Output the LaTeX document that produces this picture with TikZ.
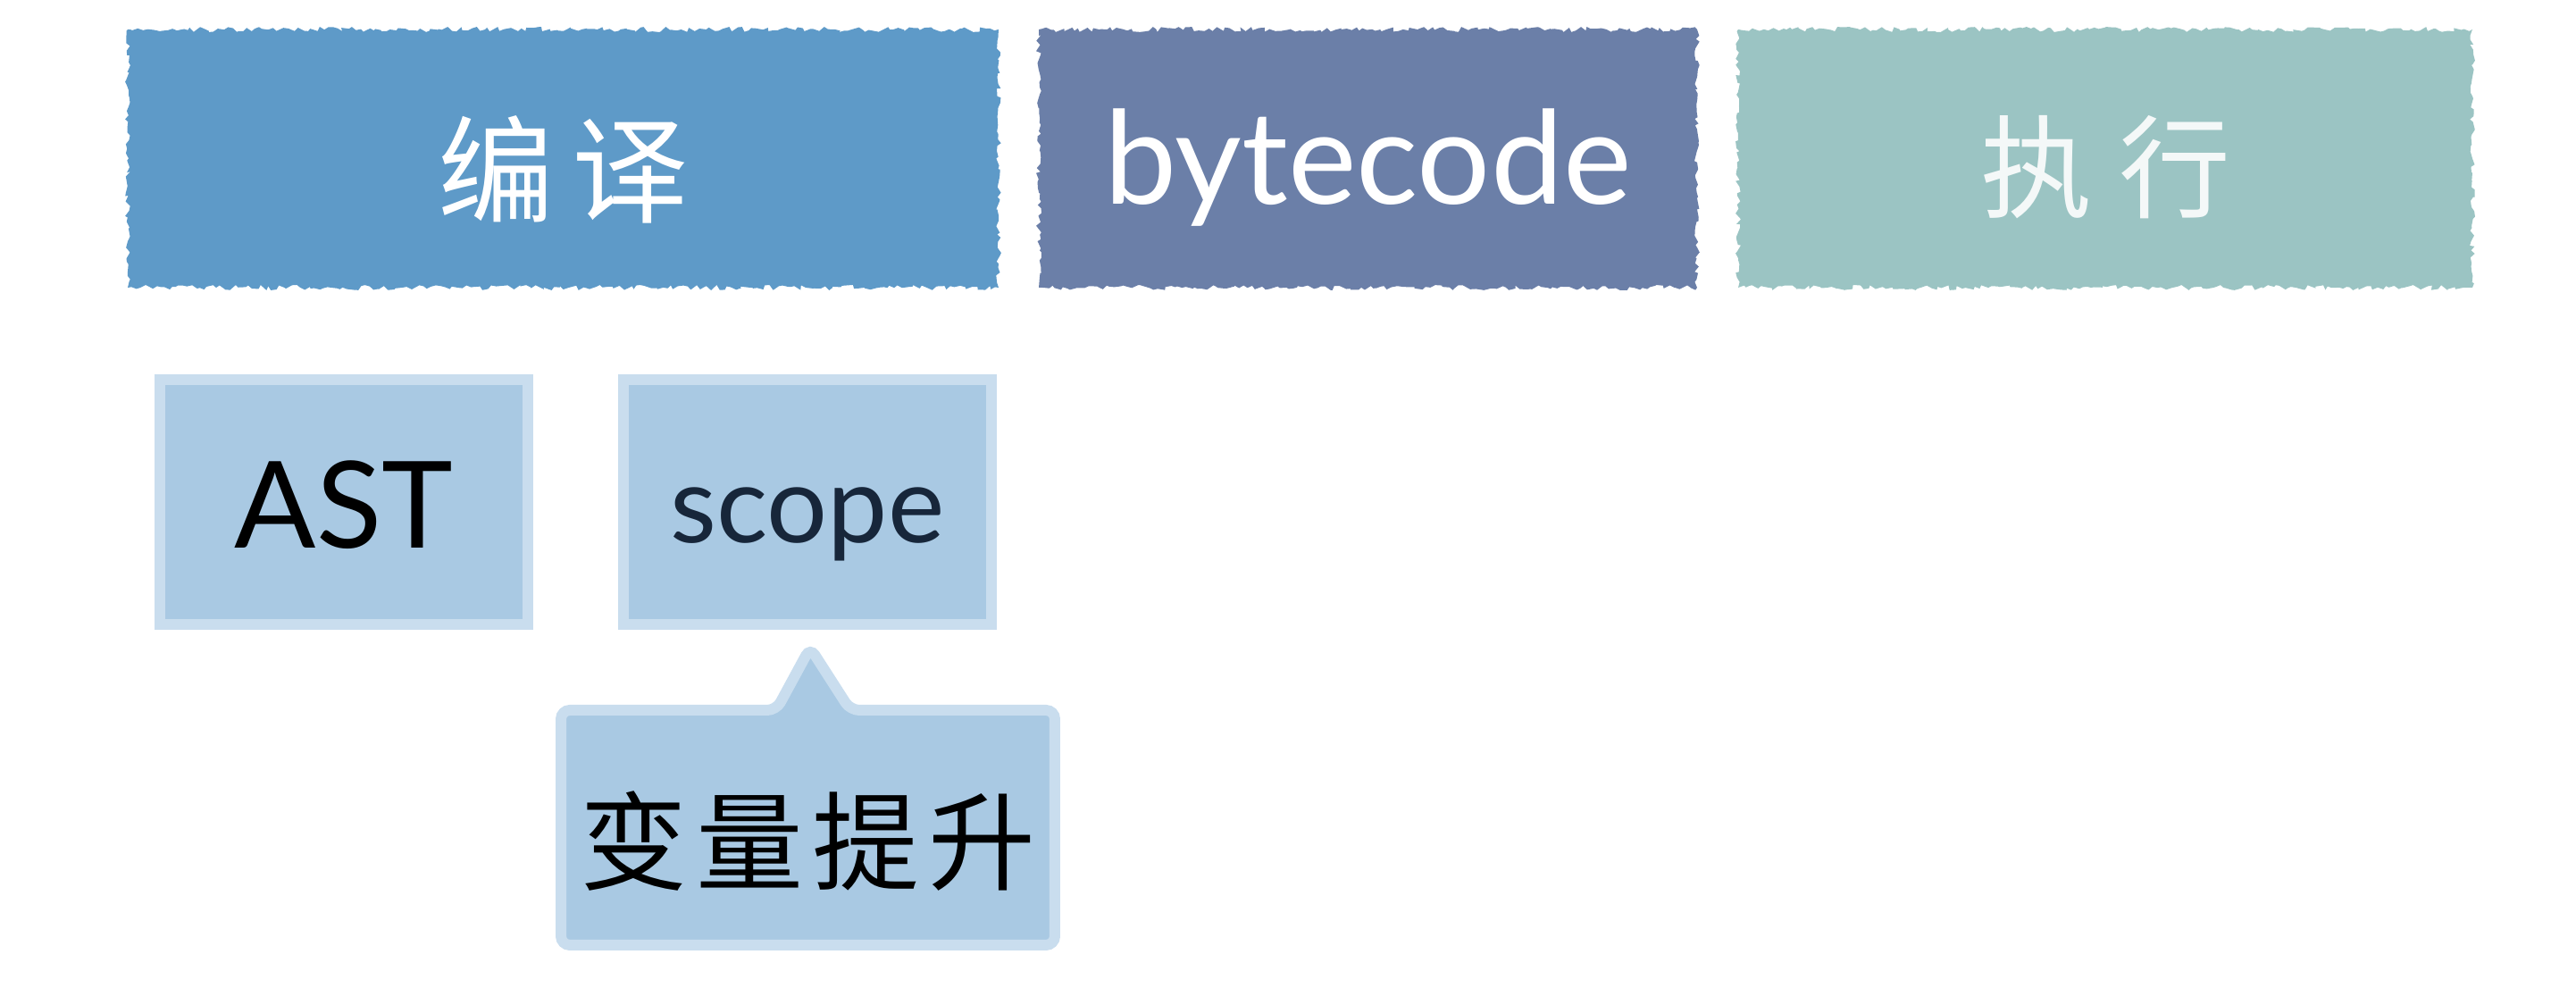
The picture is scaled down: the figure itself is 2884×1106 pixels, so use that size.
\documentclass[tikz,border=0pt]{standalone}
\usepackage{fontspec}
\setmainfont{Lato}
\newfontfamily\cjk{Noto Sans CJK SC}
\usetikzlibrary{calc,decorations.pathmorphing,backgrounds}
\definecolor{cBlue}{HTML}{5E9AC8}
\definecolor{cSlate}{HTML}{6B7FA8}
\definecolor{cTeal}{HTML}{9BC4C3}
\definecolor{cLight}{HTML}{A9C9E3}
\definecolor{cHalo}{HTML}{C9DDEE}
\definecolor{cNavy}{HTML}{17263A}
\definecolor{cOff}{HTML}{F4F8F8}
\newcommand{\dropby}[2]{\raisebox{-#1}[\height][\depth]{#2}}
\begin{document}
\pgfmathsetseed{7}
\begin{tikzpicture}[x=0.1pt,y=-0.1pt,
  rough/.style={decorate,decoration={random steps,segment length=0.45pt,amplitude=0.3pt}},
  stage/.style={rough,inner sep=0pt,minimum height=28.9pt},
  subbox/.style={draw=cHalo,line width=1.2pt,fill=cLight,inner sep=0pt,
    minimum width=41.2pt,minimum height=27.4pt},
  bubble/.style={draw=cHalo,line width=1.2pt,fill=cLight,rounded corners=1pt},
  cjkbig/.style={font=\cjk\fontsize{13pt}{13pt}\selectfont},
  cjkmid/.style={font=\cjk\fontsize{12pt}{12pt}\selectfont}
]
\useasboundingbox (0,0) rectangle (2884,1106);

\node[stage,fill=cBlue,minimum width=97.5pt,text=white,cjkbig] (compile) at (630.5,177.5) {\dropby{1.2pt}{编\kern2pt 译}};
\node[stage,fill=cSlate,minimum width=73.7pt,text=white,font=\fontsize{14.5pt}{14.5pt}\selectfont] (bytecode) at (1531.5,177.5) {\dropby{1pt}{bytecode}};
\node[stage,fill=cTeal,minimum width=82.2pt,text=cOff,font=\cjk\fontsize{12.5pt}{12.5pt}\selectfont] (exec) at (2357,177.5) {\dropby{1pt}{执\kern3pt 行}};

\node[subbox,font=\fontsize{13.5pt}{13.5pt}\selectfont,text=black] (ast) at (385,562) {\dropby{0.3pt}{AST}};
\node[subbox,font=\fontsize{12pt}{12pt}\selectfont,text=cNavy] (scope) at (904,562) {\dropby{2.5pt}{scope}};

\node[inner sep=0pt,minimum width=54.9pt,minimum height=25.9pt,cjkmid,text=black] (hoist) at (904.5,926.5) {\dropby{1.5pt}{变\kern1pt 量\kern1pt 提\kern1pt 升}};
\coordinate (tip) at (907,725);
\begin{scope}[on background layer]
\filldraw[bubble] (hoist.north west) -- ($(hoist.north)+(-35.5,0)$) -- (tip)
  -- ($(hoist.north)+(47.5,0)$) -- (hoist.north east) -- (hoist.south east)
  -- (hoist.south west) -- cycle;
\end{scope}
\end{tikzpicture}
\end{document}
